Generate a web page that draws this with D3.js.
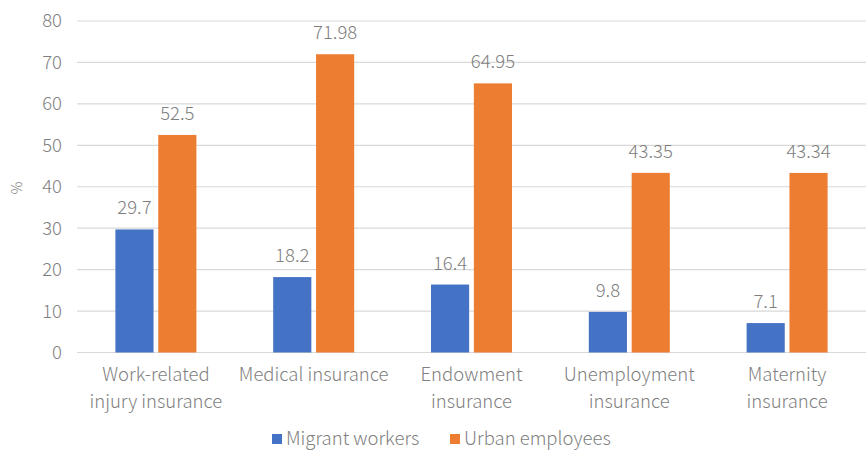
<!DOCTYPE html>
<html><head><meta charset="utf-8">
<script src="https://cdn.jsdelivr.net/npm/d3@7"></script>
<style>body{margin:0;background:#fff}text{font-family:"Noto Sans CJK SC","Noto Sans",sans-serif;font-weight:300;fill:#7f7f7f}</style>
</head><body><svg id="c" width="868" height="450"></svg>
<script>
const categories = ["Work-related\ninjury insurance","Medical insurance","Endowment\ninsurance","Unemployment\ninsurance","Maternity\ninsurance"];
const seriesNames = ["Migrant workers","Urban employees"];
const migrant = [29.7,18.2,16.4,9.8,7.1];
const urban = [52.5,71.98,64.95,43.35,43.34];
const migrantLabels = ["29.7","18.2","16.4","9.8","7.1"];
const urbanLabels = ["52.5","71.98","64.95","43.35","43.34"];
const yTicks = [0,10,20,30,40,50,60,70,80];
const colors = ["#4472C4","#ED7D31"];

(function(){
const svg = d3.select("#c");
const pl = 77, pr = 866, pt = 21, pb = 352.5;
const x = d3.scaleBand().domain(categories).range([pl,pr]);
const y = d3.scaleLinear().domain([0,80]).range([pb,pt]);
const inner = d3.scaleBand().domain([0,1]).range([0,81]).paddingInner(0.11);

svg.append("g").selectAll("line").data(yTicks).join("line")
  .attr("x1",pl).attr("x2",pr).attr("y1",d=>y(d)).attr("y2",d=>y(d))
  .attr("stroke","#d9d9d9").attr("stroke-width",1.2);
svg.append("g").selectAll("text").data(yTicks).join("text")
  .attr("x",62).attr("y",d=>y(d)).attr("dy","0.35em").attr("text-anchor","end")
  .attr("font-size",18.5).text(d=>d);
svg.append("text").attr("transform","translate(22,188) rotate(-90)").attr("text-anchor","middle")
  .attr("font-size",14).text("%");

const series = [migrant, urban];
const labels = [migrantLabels, urbanLabels];
series.forEach((vals,s)=>{
  const g = svg.append("g");
  g.selectAll("rect").data(categories).join("rect")
    .attr("x",(c)=>x(c)+x.bandwidth()/2-40.5+inner(s))
    .attr("width",inner.bandwidth())
    .attr("y",(c,i)=>y(vals[i]))
    .attr("height",(c,i)=>y(0)-y(vals[i]))
    .attr("fill",colors[s]);
  g.selectAll("text").data(categories).join("text")
    .attr("x",(c)=>x(c)+x.bandwidth()/2-40.5+inner(s)+inner.bandwidth()/2)
    .attr("y",(c,i)=>y(vals[i])-15)
    .attr("text-anchor","middle").attr("font-size",18.5)
    .text((c,i)=>labels[s][i]);
});

const xl = svg.append("g").selectAll("text").data(categories).join("text")
  .attr("text-anchor","middle").attr("font-size",18.5);
xl.each(function(c){
  const t = d3.select(this);
  c.split("\n").forEach((line,k)=>{
    t.append("tspan").attr("x",x(c)+x.bandwidth()/2).attr("y",381+k*27).text(line);
  });
});

const leg = [{name:seriesNames[0],x:272},{name:seriesNames[1],x:450}];
leg.forEach((l,i)=>{
  svg.append("rect").attr("x",l.x).attr("y",434).attr("width",10).attr("height",10).attr("fill",colors[i]);
  svg.append("text").attr("x",l.x+14).attr("y",445).attr("font-size",18.5).text(l.name);
});
})();
</script></body></html>
